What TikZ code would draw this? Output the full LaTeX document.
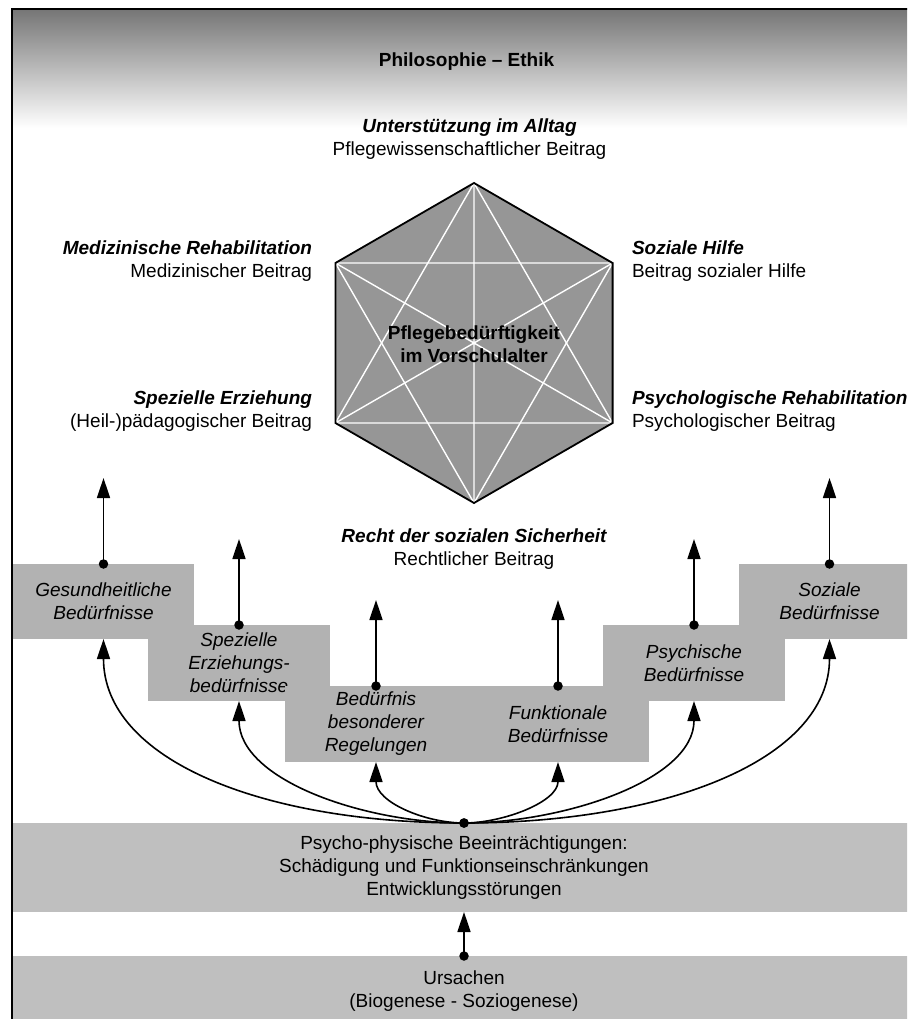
\documentclass[tikz,border=0pt]{standalone}
\usepackage{fontspec}
\setmainfont{Liberation Sans}
\usetikzlibrary{arrows.meta,calc}

\definecolor{hexfill}{gray}{0.59}
\definecolor{boxfill}{gray}{0.70}
\definecolor{barfill}{gray}{0.75}
\definecolor{topshade}{gray}{0.46}

\newcommand{\diagfont}{\fontsize{19}{23}\selectfont}

\begin{document}
\begin{tikzpicture}[x=1pt,y=-1pt,
  every node/.style={font=\diagfont, inner sep=0pt, outer sep=0pt},
  lab/.style={font=\diagfont},
  labhead/.style={font=\diagfont\bfseries\itshape},
  needbox/.style={fill=boxfill, align=center, font=\diagfont\itshape},
  bar/.style={fill=barfill, align=center, minimum width=902pt},
  dot/.style={circle, fill=black, minimum size=9.5pt},
  arr/.style={line width=1.6pt, -{Triangle[length=20pt,width=13pt]}},
  hexline/.style={white, line width=1.4pt}
]
\useasboundingbox (0,0) rectangle (907,1019);
\clip (0,0) rectangle (907,1019);

% heading band with frame
\shade[top color=topshade, bottom color=white] (12,9) rectangle (907,128);
\draw[line width=2pt] (12,1030) -- (12,9) -- (920,9);
\node[font=\diagfont\bfseries] (title) at (466.5,62) {Philosophie – Ethik};

% hexagon
\coordinate (hA) at (474,183);
\coordinate (hB) at (612.6,263);
\coordinate (hC) at (612.6,423);
\coordinate (hD) at (474,503);
\coordinate (hE) at (335.4,423);
\coordinate (hF) at (335.4,263);
\fill[hexfill] (hA) -- (hB) -- (hC) -- (hD) -- (hE) -- (hF) -- cycle;
\draw[hexline] (hA) -- (hD) (hB) -- (hE) (hC) -- (hF);
\draw[hexline] (hA) -- (hC) -- (hE) -- cycle;
\draw[hexline] (hB) -- (hD) -- (hF) -- cycle;
\draw[line width=1.8pt, line join=miter] (hA) -- (hB) -- (hC) -- (hD) -- (hE) -- (hF) -- cycle;
\node[font=\diagfont\bfseries, align=center] (core) at (474,344) {Pflegebedürftigkeit\\im Vorschulalter};

% contributions around the hexagon
\node[labhead, anchor=base] (alltag) at (469.5,133) {Unterstützung im Alltag};
\node[lab, anchor=base] (alltagb) at (469.5,156) {Pflegewissenschaftlicher Beitrag};
\node[labhead, anchor=base east] (medreh) at (312,254) {Medizinische Rehabilitation};
\node[lab, anchor=base east] (medrehb) at (312,277) {Medizinischer Beitrag};
\node[labhead, anchor=base west] (sozh) at (632,254) {Soziale Hilfe};
\node[lab, anchor=base west] (sozhb) at (632,277) {Beitrag sozialer Hilfe};
\node[labhead, anchor=base east] (sperz) at (312,404) {Spezielle Erziehung};
\node[lab, anchor=base east] (sperzb) at (312,427) {(Heil-)pädagogischer Beitrag};
\node[labhead, anchor=base west] (psyreh) at (632,404) {Psychologische Rehabilitation};
\node[lab, anchor=base west] (psyrehb) at (632,427) {Psychologischer Beitrag};
\node[labhead, anchor=base] (recht) at (474,542) {Recht der sozialen Sicherheit};
\node[lab, anchor=base] (rechtb) at (474,565) {Rechtlicher Beitrag};

% needs, as a staircase
\node[needbox, minimum width=181pt, minimum height=75pt] (gbox) at (103.5,601.5) {Gesundheitliche\\Bedürfnisse};
\node[needbox, minimum width=182pt, minimum height=76pt] (sbox) at (239,663) {Spezielle\\Erziehungs-\\bedürfnisse};
\node[needbox, minimum width=364pt, minimum height=76pt] (mbox) at (467,724) {};
\node[needbox, minimum width=182pt, minimum height=76pt] (pbox) at (694,663) {Psychische\\Bedürfnisse};
\node[needbox, minimum width=181pt, minimum height=75pt] (zbox) at (829.5,601.5) {Soziale\\Bedürfnisse};
\coordinate (mtopL) at ($(mbox.north west)!0.25!(mbox.north east)$);
\coordinate (mtopR) at ($(mbox.north west)!0.75!(mbox.north east)$);
\coordinate (mbotL) at ($(mbox.south west)!0.25!(mbox.south east)$);
\coordinate (mbotR) at ($(mbox.south west)!0.75!(mbox.south east)$);
\node[font=\diagfont\itshape, align=center] (mtxtL) at ($(mbox.center)!0.5!(mbox.west)$) {Bedürfnis\\besonderer\\Regelungen};
\node[font=\diagfont\itshape, align=center] (mtxtR) at ($(mbox.center)!0.5!(mbox.east)$) {Funktionale\\Bedürfnisse};

% impairments and causes
\node[bar, minimum height=89pt] (pbar) at (464,867.5) {Psycho-physische Beeinträchtigungen:\\Schädigung und Funktionseinschränkungen\\Entwicklungsstörungen};
\node[bar, minimum height=70pt] (ubar) at (464,991) {Ursachen\\(Biogenese - Soziogenese)};

% arrows from the needs up to the contributions
\coordinate (gup) at ($(gbox.north)+(0,-86)$);
\coordinate (sup) at ($(sbox.north)+(0,-86)$);
\coordinate (mupL) at ($(mtopL)+(0,-86)$);
\coordinate (mupR) at ($(mtopR)+(0,-86)$);
\coordinate (pup) at ($(pbox.north)+(0,-86)$);
\coordinate (zup) at ($(zbox.north)+(0,-86)$);
\foreach \s/\t in {gbox.north/gup, sbox.north/sup, mtopL/mupL, mtopR/mupR, pbox.north/pup, zbox.north/zup} {
  \draw[arr] (\s) -- (\t);
  \node[dot] at (\s) {};
}

% causes lead to impairments
\node[dot] (udot) at (ubar.north) {};
\draw[arr] (udot.center) -- (pbar.south);

% impairments fan out to every need
\node[dot] (hub) at (pbar.north) {};
\draw[arr] (hub.center) .. controls ($(hub.center)+(-204,0)$) and ($(gbox.south)+(0,120)$) .. (gbox.south);
\draw[arr] (hub.center) .. controls ($(hub.center)+(-100,0)$) and ($(sbox.south)+(0,79)$) .. (sbox.south);
\draw[arr] (hub.center) .. controls ($(hub.center)+(-39,0)$) and ($(mbotL)+(0,40)$) .. (mbotL);
\draw[arr] (hub.center) .. controls ($(hub.center)+(39,0)$) and ($(mbotR)+(0,40)$) .. (mbotR);
\draw[arr] (hub.center) .. controls ($(hub.center)+(100,0)$) and ($(pbox.south)+(0,79)$) .. (pbox.south);
\draw[arr] (hub.center) .. controls ($(hub.center)+(204,0)$) and ($(zbox.south)+(0,120)$) .. (zbox.south);
\node[dot] at (hub) {};
\end{tikzpicture}
\end{document}
